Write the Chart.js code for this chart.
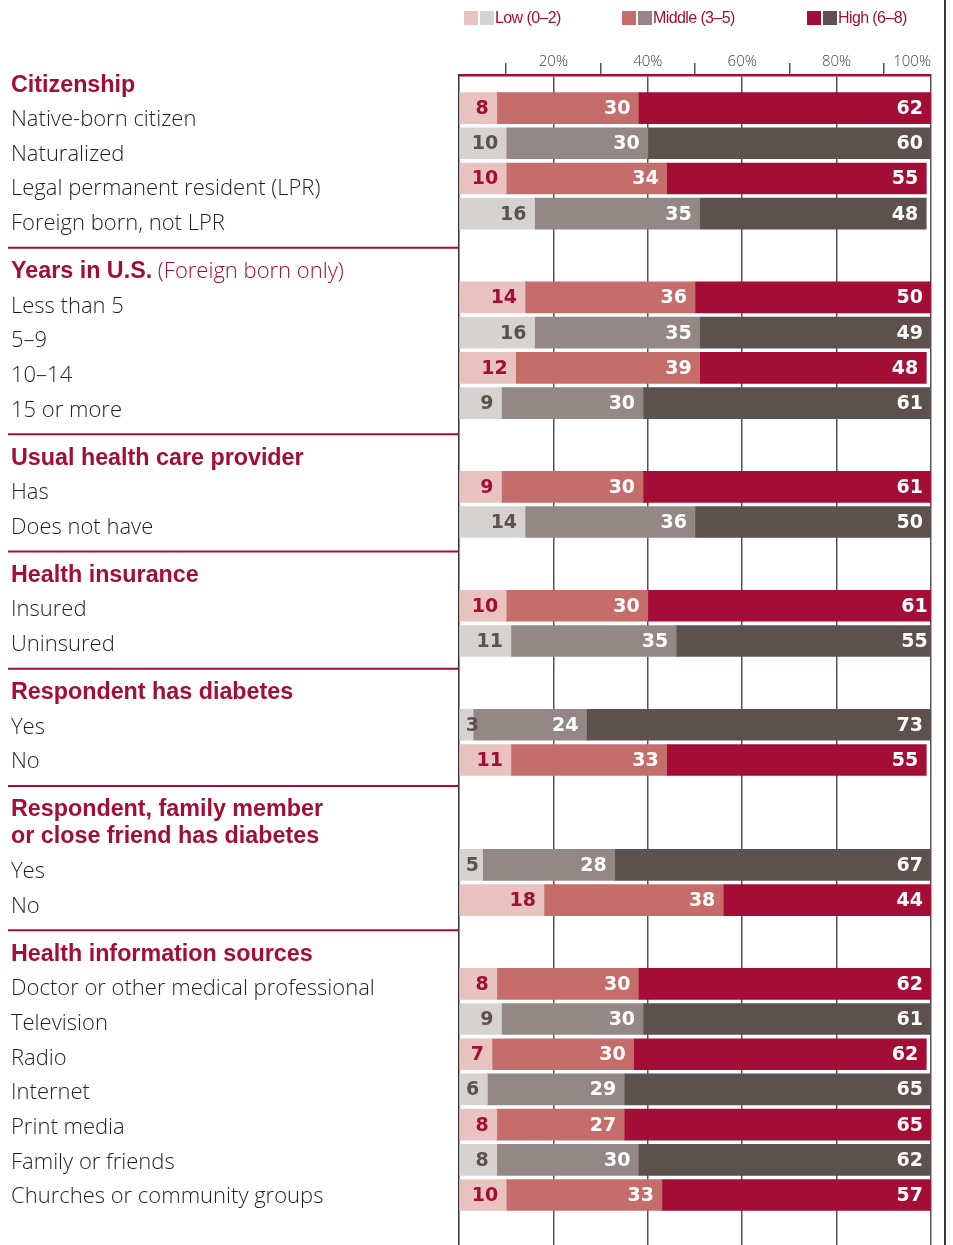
<!DOCTYPE html>
<html>
<head>
<meta charset="utf-8">
<script src="https://cdn.jsdelivr.net/npm/chart.js@4.4.1/dist/chart.umd.min.js"></script>
<style>
  body { margin: 0; background: #fff; }
  #wrap { position: relative; width: 953px; height: 1245px; overflow: hidden; }
  #chart { position: absolute; left: 0; top: 0; }
  .key { position: absolute; top: 9px; font: 16px "Liberation Sans", Arial, sans-serif; letter-spacing: -0.6px;
         line-height: 18px; color: #a30d36; white-space: nowrap; }
  .key i { display: inline-block; width: 14px; height: 14px; margin-right: 2px; vertical-align: -2px; }
  #edge { position: absolute; left: 944px; top: 0; width: 2px; height: 1245px; background: #3a3a3a; }
</style>
</head>
<body>
<div id="wrap">
  <canvas id="chart" width="953" height="1245"></canvas>
  <div id="edge"></div>
</div>
<script>
const groupTitles = [
    ['Citizenship'],
    ['Years in U.S.'],
    ['Usual health care provider'],
    ['Health insurance'],
    ['Respondent has diabetes'],
    ['Respondent, family member', 'or close friend has diabetes'],
    ['Health information sources']
];
const groupNotes = ['', ' (Foreign born only)', '', '', '', '', ''];
const groupSizes = [4, 4, 2, 2, 2, 2, 7];

const rowLabels = [
    'Native-born citizen', 'Naturalized', 'Legal permanent resident (LPR)', 'Foreign born, not LPR',
    'Less than 5', '5–9', '10–14', '15 or more',
    'Has', 'Does not have',
    'Insured', 'Uninsured',
    'Yes', 'No',
    'Yes', 'No',
    'Doctor or other medical professional', 'Television', 'Radio', 'Internet',
    'Print media', 'Family or friends', 'Churches or community groups'
];
const low  = [8, 10, 10, 16, 14, 16, 12, 9, 9, 14, 10, 11, 3, 11, 5, 18, 8, 9, 7, 6, 8, 8, 10];
const mid  = [30, 30, 34, 35, 36, 35, 39, 30, 30, 36, 30, 35, 24, 33, 28, 38, 30, 30, 30, 29, 27, 30, 33];
const high = [62, 60, 55, 48, 50, 49, 48, 61, 61, 50, 61, 55, 73, 55, 67, 44, 62, 61, 62, 65, 65, 62, 57];
// which palette each bar uses
const shade = ['red', 'grey', 'red', 'grey', 'red', 'grey', 'red', 'grey', 'red', 'grey', 'red', 'grey',
               'grey', 'red', 'grey', 'red', 'red', 'grey', 'red', 'grey', 'red', 'grey', 'red'];

const legendLabels = ['Low (0–2)', 'Middle (3–5)', 'High (6–8)'];
const xTicks = [20, 40, 60, 80, 100];

const CRIMSON = '#a30d36';
const DARK = '#5c514d';
const palette = {
    red:  ['#e8c3c0', '#c46d6a', '#a30d36'],
    grey: ['#d6d2cf', '#938885', '#5c514d']
};

// vertical layout, in bar rows (one row = 35.2px)
const Y_MIN = -0.94;
const Y_SPAN = 33.24;
const BAR_GAP = 2.38;
const EXTRA_LINE = 0.6;
const TEXT_START = -0.65;
const TEXT_LINE = 0.985;
const HEAD_LINE = 0.77;
const TEXT_GAP = 1.36;

const barPos = [];
let b = 0;
groupSizes.forEach((n, g) => {
    if (g > 0) b += BAR_GAP + (groupTitles[g].length - 1) * EXTRA_LINE;
    for (let i = 0; i < n; i++) barPos.push(b + i);
    b += n - 1;
});

const headPos = [];
const labelPos = [];
let t = TEXT_START;
groupSizes.forEach((n, g) => {
    headPos.push(t);
    t += (groupTitles[g].length - 1) * HEAD_LINE;
    for (let i = 0; i < n; i++) {
        t += TEXT_LINE;
        labelPos.push(t);
    }
    t += TEXT_GAP;
});

// legend
const keyLeft = [464, 622, 807];
legendLabels.forEach((label, k) => {
    const div = document.createElement('div');
    div.className = 'key';
    div.style.left = keyLeft[k] + 'px';
    const a = document.createElement('i');
    a.style.background = palette.red[k];
    const c = document.createElement('i');
    c.style.background = palette.grey[k];
    c.style.marginRight = '1px';
    div.appendChild(a);
    div.appendChild(c);
    div.appendChild(document.createTextNode(label));
    document.getElementById('wrap').appendChild(div);
});

const segmentLabels = {
    id: 'segmentLabels',
    afterDatasetsDraw(chart) {
        const ctx = chart.ctx;
        ctx.save();
        ctx.font = 'bold 19px "DejaVu Sans", sans-serif';
        ctx.textAlign = 'right';
        ctx.textBaseline = 'middle';
        chart.data.datasets.forEach((ds, d) => {
            chart.getDatasetMeta(d).data.forEach((bar, i) => {
                const text = String(ds.data[i].x);
                const w = ctx.measureText(text).width;
                const x = Math.max(bar.x - 8, bar.base + w + 6);
                ctx.fillStyle = d === 0 ? (shade[i] === 'red' ? CRIMSON : DARK) : '#fff';
                ctx.fillText(text, x, bar.y + 1);
            });
        });
        ctx.restore();
    }
};

const groupHeads = {
    id: 'groupHeads',
    afterDraw(chart) {
        const {ctx, chartArea} = chart;
        const y = chart.scales.y;
        ctx.save();
        ctx.textBaseline = 'middle';
        ctx.textAlign = 'left';
        ctx.fillStyle = CRIMSON;
        headPos.forEach((pos, g) => {
            const lines = groupTitles[g];
            lines.forEach((line, k) => {
                const py = y.getPixelForValue(pos + k * HEAD_LINE);
                ctx.font = 'bold 23.3px "Liberation Sans", Arial, sans-serif';
                ctx.fillText(line, 11, py);
                if (groupNotes[g] && k === lines.length - 1) {
                    const w = ctx.measureText(line).width;
                    ctx.font = '300 22px "Open Sans", sans-serif';
                    ctx.fillText(groupNotes[g], 11 + w, py);
                }
            });
            if (g > 0) {
                const sy = y.getPixelForValue(pos) - 24;
                ctx.strokeStyle = CRIMSON;
                ctx.lineWidth = 2;
                ctx.beginPath();
                ctx.moveTo(8, sy);
                ctx.lineTo(chartArea.left, sy);
                ctx.stroke();
            }
        });
        ctx.restore();
    }
};

function makeData(values) {
    return values.map((v, i) => ({x: v, y: barPos[i]}));
}

new Chart(document.getElementById('chart'), {
    type: 'bar',
    data: {
        datasets: [
            {label: legendLabels[0], data: makeData(low),  backgroundColor: shade.map(s => palette[s][0])},
            {label: legendLabels[1], data: makeData(mid),  backgroundColor: shade.map(s => palette[s][1])},
            {label: legendLabels[2], data: makeData(high), backgroundColor: shade.map(s => palette[s][2])}
        ]
    },
    options: {
        indexAxis: 'y',
        responsive: false,
        animation: false,
        barThickness: 31,
        borderWidth: 0,
        layout: {padding: {left: 11, right: 22, top: 0, bottom: 0}},
        plugins: {
            legend: {display: false},
            tooltip: {enabled: true}
        },
        scales: {
            x: {
                type: 'linear',
                position: 'top',
                stacked: true,
                min: 0,
                max: 100,
                afterFit: (scale) => { scale.height = 75; },
                border: {color: CRIMSON, width: 2.5},
                grid: {
                    drawTicks: true,
                    tickLength: 12,
                    lineWidth: 1.5,
                    color: (c) => (c.tick && c.tick.value > 0 && c.tick.value % 20 === 0) ? '#555' : 'rgba(0,0,0,0)',
                    tickColor: (c) => (c.tick && c.tick.value % 20 === 10) ? '#555' : 'rgba(0,0,0,0)',
                    tickWidth: 1.5
                },
                ticks: {
                    stepSize: 10,
                    autoSkip: false,
                    maxRotation: 0,
                    align: 'inner',
                    padding: -7.5,
                    color: '#444',
                    font: {family: '"Open Sans", sans-serif', size: 15, weight: '300'},
                    callback: (v) => xTicks.includes(v) ? v + '%' : ''
                }
            },
            y: {
                type: 'linear',
                stacked: true,
                reverse: true,
                offset: false,
                min: Y_MIN,
                max: Y_MIN + Y_SPAN,
                afterFit: (scale) => {
                    scale.width = 448;
                    scale.paddingTop = 0;
                    scale.paddingBottom = 0;
                },
                afterBuildTicks: (scale) => { scale.ticks = labelPos.map(v => ({value: v})); },
                border: {color: '#333', width: 1.5},
                grid: {display: false, offset: false},
                ticks: {
                    autoSkip: false,
                    crossAlign: 'far',
                    padding: 0,
                    color: '#231f20',
                    font: {family: '"Open Sans", sans-serif', size: 22, weight: '300'},
                    callback: (v, i) => rowLabels[i]
                }
            }
        }
    },
    plugins: [segmentLabels, groupHeads]
});
</script>
</body>
</html>
